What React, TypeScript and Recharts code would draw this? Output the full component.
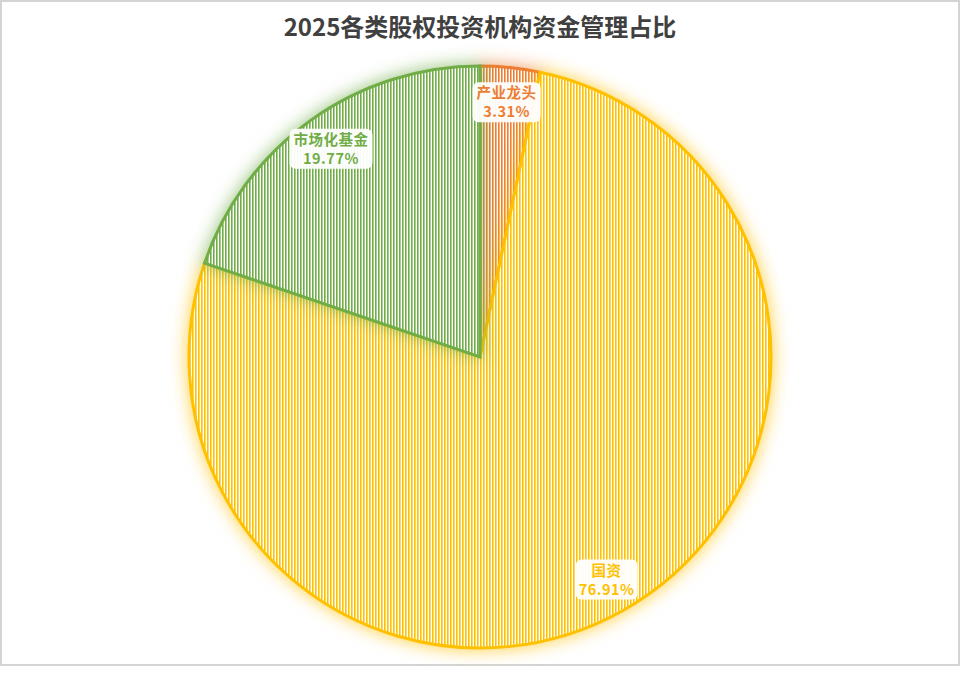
import { PieChart, Pie, Cell } from "recharts";

const categories = ["产业龙头", "国资", "市场化基金"];
const shares = [3.31, 76.91, 19.77];
const colors = ["#ED7D31", "#FFC000", "#70AD47"];
const ids = ["orange", "gold", "green"];

const data = categories.map((name, i) => ({ name, value: shares[i] }));

const FONT = '"Noto Sans CJK SC", "Noto Sans", sans-serif';

function textWidth(s: string, size: number) {
  let w = 0;
  for (const ch of s) w += /[\u4e00-\u9fff]/.test(ch) ? size : size * 0.6;
  return w;
}

function renderLabel(props: any) {
  const { cx, cy, midAngle, outerRadius, index } = props;
  const rad = Math.PI / 180;
  const r = outerRadius * 0.88;
  const x = cx + r * Math.cos(-midAngle * rad);
  const y = cy + r * Math.sin(-midAngle * rad);
  const line1 = categories[index];
  const line2 = `${shares[index].toFixed(2)}%`;
  const w = Math.max(textWidth(line1, 15), textWidth(line2, 15)) + 8;
  const h = 40;
  return (
    <g>
      <rect x={x - w / 2} y={y - h / 2} width={w} height={h} rx={6} fill="#fff" fillOpacity={0.95} />
      <text
        x={x}
        y={y - 4}
        textAnchor="middle"
        fill={colors[index]}
        fontSize={14.5}
        fontWeight={700}
        fontFamily={FONT}
        letterSpacing={0.5}
      >
        <tspan x={x}>{line1}</tspan>
        <tspan x={x} dy={19}>
          {line2}
        </tspan>
      </text>
    </g>
  );
}

export default function App() {
  return (
    <div style={{ position: "absolute", left: 0, top: 0, width: 960, height: 678, background: "#fff" }}>
      <svg width={0} height={0} style={{ position: "absolute" }}>
        <defs>
          {ids.map((id, i) => (
            <pattern key={id} id={`stripe-${id}`} patternUnits="userSpaceOnUse" width={3} height={10}>
              <rect x={0} y={0} width={3} height={10} fill="#fff" />
              <rect x={0} y={0} width={1.6} height={10} fill={colors[i]} />
            </pattern>
          ))}
          {ids.map((id, i) => (
            <filter key={id} id={`glow-${id}`} x="-25%" y="-25%" width="150%" height="150%">
              <feDropShadow dx={0} dy={0} stdDeviation={9} floodColor={colors[i]} floodOpacity={0.75} />
            </filter>
          ))}
        </defs>
      </svg>
      <div
        style={{
          position: "absolute",
          left: 0,
          top: 0,
          width: 960,
          height: 666,
          boxSizing: "border-box",
          border: "2px solid #d4d4d4",
        }}
      />
      <div
        style={{
          position: "absolute",
          left: 0,
          top: 8,
          width: 960,
          textAlign: "center",
          fontFamily: FONT,
          fontSize: 24,
          fontWeight: 700,
          color: "#404040",
        }}
      >
        2025各类股权投资机构资金管理占比
      </div>
      <div style={{ position: "absolute", left: 0, top: 0 }}>
        <PieChart width={960} height={666} margin={{ top: 0, right: 0, bottom: 0, left: 0 }}>
          <Pie
            data={data}
            dataKey="value"
            nameKey="name"
            cx={480}
            cy={357}
            outerRadius={291}
            startAngle={90}
            endAngle={-270}
            stroke="none"
            label={renderLabel}
            labelLine={false}
            isAnimationActive={false}
          >
            {data.map((d, i) => (
              <Cell
                key={d.name}
                fill={`url(#stripe-${ids[i]})`}
                stroke={colors[i]}
                strokeWidth={3}
                style={{ filter: `url(#glow-${ids[i]})` }}
              />
            ))}
          </Pie>
        </PieChart>
      </div>
    </div>
  );
}
